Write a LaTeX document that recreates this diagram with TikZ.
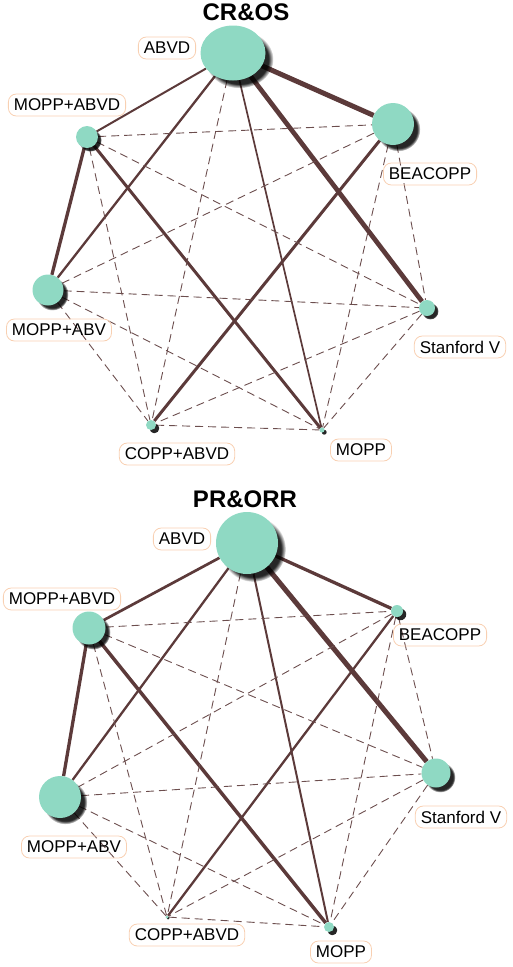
\documentclass[tikz,border=0pt]{standalone}
\usepackage{fontspec}
\setmainfont{Liberation Sans}
\usetikzlibrary{shapes.geometric,shadows,fadings,backgrounds}
\definecolor{nodemint}{RGB}{143,217,195}
\definecolor{edgebrown}{RGB}{92,58,58}
\definecolor{tagline}{RGB}{248,208,178}

\begin{document}
\begin{tikzpicture}[
  x=1pt, y=-1pt,
  treat/.style={circle, fill=nodemint, inner sep=0pt, minimum size=#1},
  dropped/.style={circular drop shadow={shadow xshift=#1, shadow yshift=-#1, shadow scale=1.05, opacity=.85, fill=black}},
  tag/.style={draw=tagline, line width=0.8pt, rounded corners=8pt, inner xsep=5.5pt, inner ysep=0pt, minimum height=22pt, font=\fontsize{17}{20}\selectfont},
  title/.style={font=\fontsize{24}{28}\selectfont\bfseries},
  link/.style={draw=edgebrown},
  indirect/.style={draw=edgebrown!90, line width=0.9pt, dash pattern=on 8pt off 5pt}
]
  \useasboundingbox (0,0) rectangle (512,967);

  % CR&OS network
  \node[title] (t1) at (246,12) {CR\&OS};
  \node[ellipse, fill=nodemint, inner sep=0pt, minimum width=65pt, minimum height=55pt, dropped=6pt] (abvd1) at (233,53) {};
  \node[treat=22pt, dropped=3pt] (mab1) at (87,137) {};
  \node[treat=42pt, dropped=5pt] (bea1) at (393,124) {};
  \node[treat=31pt, dropped=4pt] (mabv1) at (48,290) {};
  \node[treat=16pt, dropped=3pt] (stan1) at (427,308) {};
  \node[treat=10pt, dropped=3pt] (copp1) at (151,425) {};
  \node[treat=5pt, dropped=2pt] (mopp1) at (322,430) {};

  \node[tag] (abvd1tag) at (167,48) {ABVD};
  \node[tag] (mab1tag) at (67,105) {MOPP+ABVD};
  \node[tag] (bea1tag) at (430,174) {BEACOPP};
  \node[tag] (mabv1tag) at (59,330) {MOPP+ABV};
  \node[tag] (stan1tag) at (460,347) {Stanford V};
  \node[tag] (copp1tag) at (177,454) {COPP+ABVD};
  \node[tag] (mopp1tag) at (361,450) {MOPP};

  % PR&ORR network
  \node[title] (t2) at (245,499) {PR\&ORR};
  \node[treat=62pt, dropped=6pt] (abvd2) at (247,543) {};
  \node[treat=33pt, dropped=4pt] (mab2) at (89,628) {};
  \node[treat=12pt, dropped=3pt] (bea2) at (397,611) {};
  \node[treat=42pt, dropped=5pt] (mabv2) at (60,797) {};
  \node[treat=29pt, dropped=4pt] (stan2) at (436,773) {};
  \node[treat=3pt, dropped=1pt] (copp2) at (167,917) {};
  \node[treat=10pt, dropped=3pt] (mopp2) at (329,927) {};

  \node[tag] (abvd2tag) at (182,539) {ABVD};
  \node[tag] (mab2tag) at (62,599) {MOPP+ABVD};
  \node[tag] (bea2tag) at (440,635) {BEACOPP};
  \node[tag] (mabv2tag) at (74,847) {MOPP+ABV};
  \node[tag] (stan2tag) at (461,817) {Stanford V};
  \node[tag] (copp2tag) at (187,935) {COPP+ABVD};
  \node[tag] (mopp2tag) at (341,952) {MOPP};

  \begin{scope}[on background layer]
    % direct comparisons
    \path[link]
      (abvd1) edge[line width=5pt] (bea1)
      (abvd1) edge[line width=4.7pt] (stan1)
      (abvd1) edge[line width=2pt] (mab1)
      (abvd1) edge[line width=2.3pt] (mabv1)
      (abvd1) edge[line width=1.7pt] (mopp1)
      (mab1) edge[line width=3.3pt] (mabv1)
      (mab1) edge[line width=3pt] (mopp1)
      (bea1) edge[line width=3pt] (copp1);
    \path[link]
      (abvd2) edge[line width=5pt] (stan2)
      (abvd2) edge[line width=3.3pt] (bea2)
      (abvd2) edge[line width=2.7pt] (mab2)
      (abvd2) edge[line width=2.3pt] (mabv2)
      (abvd2) edge[line width=2pt] (mopp2)
      (mab2) edge[line width=3.3pt] (mabv2)
      (mab2) edge[line width=3.5pt] (mopp2)
      (bea2) edge[line width=2.3pt] (copp2);

    % indirect comparisons
    \foreach \n in {1,2} {
      \path[indirect]
        (abvd\n) edge (copp\n)
        (mab\n) edge (bea\n)
        (mab\n) edge (stan\n)
        (mab\n) edge (copp\n)
        (bea\n) edge (mabv\n)
        (bea\n) edge (stan\n)
        (bea\n) edge (mopp\n)
        (mabv\n) edge (stan\n)
        (mabv\n) edge (copp\n)
        (mabv\n) edge (mopp\n)
        (stan\n) edge (copp\n)
        (stan\n) edge (mopp\n)
        (copp\n) edge (mopp\n);
    }
  \end{scope}
\end{tikzpicture}
\end{document}
